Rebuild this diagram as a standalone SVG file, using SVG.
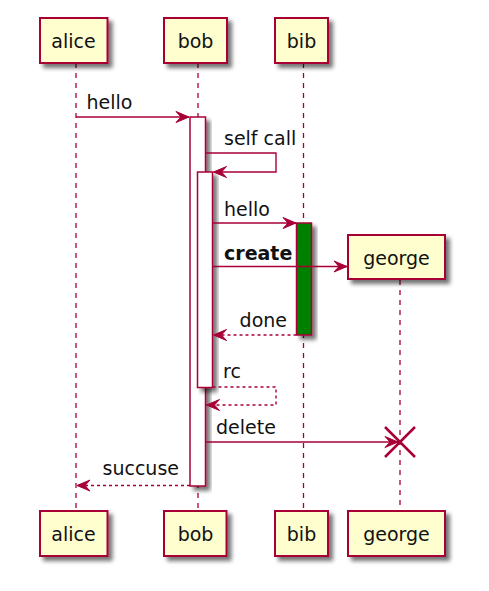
<svg xmlns="http://www.w3.org/2000/svg" width="489" height="591" viewBox="0 0 489 591">
<style>
.p{fill:#FEFECE;stroke:#A80036;stroke-width:2;}
.pt{font-family:"DejaVu Sans",sans-serif;font-size:19px;fill:#111;text-anchor:middle;}
.mt{font-family:"DejaVu Sans",sans-serif;font-size:19px;fill:#111;}
.ll{stroke:#A80036;stroke-width:1.3;stroke-dasharray:5,5;fill:none;}
.act{fill:#FFFFFF;stroke:#A80036;stroke-width:1.5;}
.m{stroke:#A80036;stroke-width:1.4;fill:none;marker-end:url(#ah);}
.d{stroke-dasharray:3,3;}
</style>
<defs>
<filter id="sh" x="-20%" y="-20%" width="160%" height="160%">
<feGaussianBlur in="SourceAlpha" stdDeviation="2"/>
<feOffset dx="4" dy="4" result="b"/>
<feComponentTransfer><feFuncA type="linear" slope="0.55"/></feComponentTransfer>
<feMerge><feMergeNode/><feMergeNode in="SourceGraphic"/></feMerge>
</filter>
<marker id="ah" viewBox="-14 -7 15 14" markerWidth="15" markerHeight="14" refX="0" refY="0" markerUnits="userSpaceOnUse" orient="auto">
<path d="M0,0 L-13,-5.5 L-8,0 L-13,5.5 Z" fill="#A80036" stroke="#A80036" stroke-width="1"/>
</marker>
</defs>
<rect width="489" height="591" fill="#FFFFFF"/>
<g id="lifelines">
<line class="ll" x1="76" y1="63" x2="76" y2="511"/>
<line class="ll" x1="198" y1="63" x2="198" y2="511"/>
<line class="ll" x1="303.5" y1="63" x2="303.5" y2="511"/>
<line class="ll" x1="400" y1="280" x2="400" y2="511"/>
</g>
<g id="alice">
<rect class="p" x="40" y="18" width="67.5" height="45" filter="url(#sh)"/>
<text class="pt" x="73.5" y="47.5">alice</text>
<rect class="p" x="40" y="511" width="67.5" height="45" filter="url(#sh)"/>
<text class="pt" x="73.5" y="540.5">alice</text>
</g>
<g id="bob">
<rect class="p" x="164" y="18" width="63" height="45" filter="url(#sh)"/>
<text class="pt" x="195.5" y="47.5">bob</text>
<rect class="p" x="164" y="511" width="62.5" height="45" filter="url(#sh)"/>
<text class="pt" x="195.5" y="540.5">bob</text>
</g>
<g id="bib">
<rect class="p" x="275" y="18" width="53" height="45" filter="url(#sh)"/>
<text class="pt" x="301.5" y="47.5">bib</text>
<rect class="p" x="275" y="511" width="53" height="45" filter="url(#sh)"/>
<text class="pt" x="301.5" y="540.5">bib</text>
</g>
<g id="george">
<rect class="p" x="348" y="235" width="97" height="44" filter="url(#sh)"/>
<text class="pt" x="396.5" y="264.5">george</text>
<rect class="p" x="348" y="511" width="97" height="45" filter="url(#sh)"/>
<text class="pt" x="396.5" y="540.5">george</text>
</g>
<g id="activations">
<rect class="act" x="190" y="117" width="15.5" height="369" filter="url(#sh)"/>
<rect class="act" x="197.5" y="172" width="15" height="215.5" filter="url(#sh)"/>
<rect class="act" x="296.5" y="223" width="15" height="112" style="fill:#008000" filter="url(#sh)"/>
</g>
<g id="connectors">
<line class="m" x1="76" y1="117" x2="189" y2="117"/>
<polyline class="m" points="205.5,153 276,153 276,172 213.5,172"/>
<line class="m" x1="212.5" y1="223" x2="296" y2="223"/>
<line class="m" x1="212.5" y1="266.5" x2="347" y2="266.5"/>
<line class="m d" x1="296.5" y1="335" x2="213.5" y2="335"/>
<polyline class="m d" points="212.5,387 276,387 276,405 206.5,405"/>
<line class="m" x1="205.5" y1="442" x2="398" y2="442"/>
<line class="m d" x1="190" y1="485.5" x2="77" y2="485.5"/>
<g stroke="#A80036" stroke-width="2.5">
<line x1="385" y1="427" x2="415" y2="457"/>
<line x1="385" y1="457" x2="415" y2="427"/>
</g>
</g>
<g id="labels">
<text class="mt" x="86.5" y="109">hello</text>
<text class="mt" x="224" y="144.5">self call</text>
<text class="mt" x="224" y="216">hello</text>
<text class="mt" x="224" y="260" font-weight="bold">create</text>
<text class="mt" x="287" y="327" text-anchor="end">done</text>
<text class="mt" x="223" y="378">rc</text>
<text class="mt" x="216" y="433.5">delete</text>
<text class="mt" x="179" y="475" text-anchor="end">succuse</text>
</g>
</svg>
